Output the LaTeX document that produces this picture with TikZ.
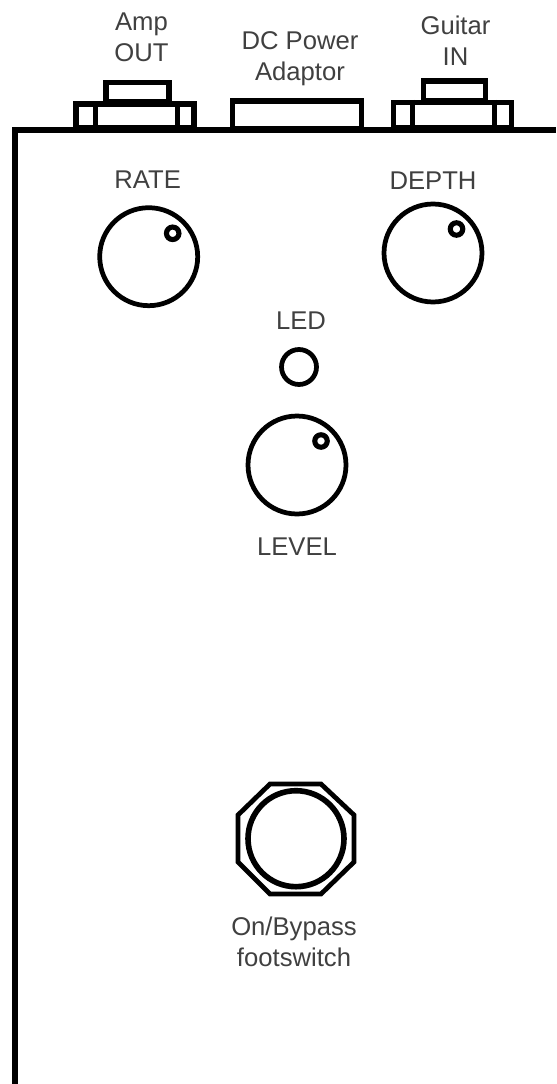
\documentclass[tikz,border=0pt]{standalone}
\usepackage{fontspec}
\setmainfont{Liberation Sans}
\begin{document}
\begin{tikzpicture}[x=0.02cm,y=-0.02cm,line join=miter,
  every node/.style={font=\fontsize{14.6}{17.6}\selectfont,text=black!75,align=center,inner sep=0pt},
  jack/.style={draw,line width=2.9pt,minimum width=#1,minimum height=0.36cm},
  knob/.style={draw,circle,line width=2.7pt,minimum size=1.96cm},
  dot/.style={draw,circle,line width=2.9pt,minimum size=0.25cm}]
\useasboundingbox (0,0) rectangle (556,1084);
% enclosure
\coordinate (tl) at (15,130);
\coordinate (tr) at (556,130);
\coordinate (bl) at (15,1084);
\draw[line width=3pt] (bl) -- (tl) -- (tr);
% jacks on the top edge
\node[jack=1.26cm,minimum height=0.38cm] (ampTop) at (137.5,92) {};
\node[jack=2.36cm,minimum height=0.48cm] (ampBody) at (135,116) {};
\draw[line width=2.9pt] ([xshift=0.44cm]ampBody.north west) -- ([xshift=0.44cm]ampBody.south west);
\draw[line width=2.9pt] ([xshift=-0.38cm]ampBody.north east) -- ([xshift=-0.38cm]ampBody.south east);
\node[jack=2.57cm,minimum height=0.56cm] (dcBody) at (297,115) {};
\node[jack=1.24cm,minimum height=0.40cm] (gtrTop) at (454.4,91) {};
\node[jack=2.36cm,minimum height=0.50cm] (gtrBody) at (452.4,115) {};
\draw[line width=2.9pt] ([xshift=0.44cm]gtrBody.north west) -- ([xshift=0.44cm]gtrBody.south west);
\draw[line width=2.9pt] ([xshift=-0.38cm]gtrBody.north east) -- ([xshift=-0.38cm]gtrBody.south east);
\node (ampLbl) at (141.5,37) {Amp\\OUT};
\node (dcLbl) at (300,59) {DC Power\\Adaptor};
\node (gtrLbl) at (455.5,41) {Guitar\\IN};
% controls
\node[knob] (rate) at (148.7,256.7) {};
\node[dot] (rateDot) at (172.7,233.3) {};
\node (rateLbl) at (147.7,180) {RATE};
\node[knob] (depth) at (433,253) {};
\node[dot] (depthDot) at (456.5,229) {};
\node (depthLbl) at (433,181) {DEPTH};
\node (ledLbl) at (301,321) {LED};
\node[draw,circle,line width=2.7pt,minimum size=0.7cm] (led) at (299,367) {};
\node[knob] (level) at (297,465) {};
\node[dot] (levelDot) at (321,441) {};
\node (levelLbl) at (297,547) {LEVEL};
% footswitch
\draw[line width=2.7pt] (270,784) -- (321,784) -- (354,815) -- (354,862) -- (321,894) -- (270,894) -- (238,862) -- (238,815) -- cycle;
\node[draw,circle,line width=3.2pt,minimum size=1.92cm] (sw) at (296,838.7) {};
\node (swLbl) at (294,942) {On/Bypass\\footswitch};
\end{tikzpicture}
\end{document}
